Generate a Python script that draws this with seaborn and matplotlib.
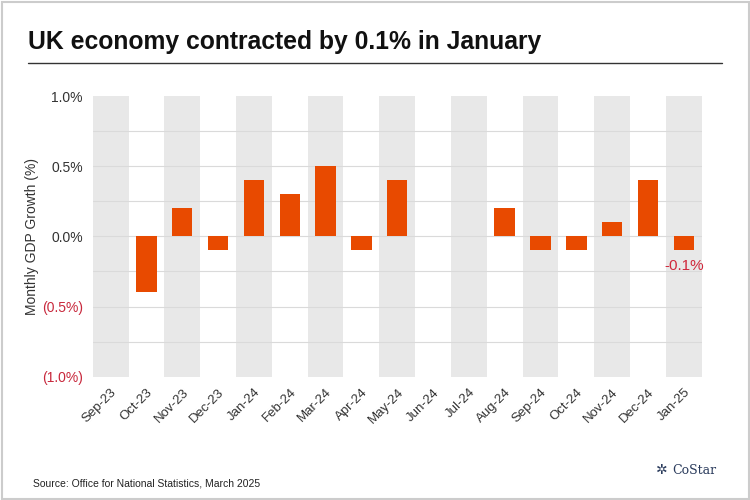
import matplotlib
matplotlib.use("Agg")
import matplotlib.pyplot as plt
import seaborn as sns
import pandas as pd

# Datos
meses = ["Sep-23", "Oct-23", "Nov-23", "Dec-23", "Jan-24", "Feb-24", "Mar-24", "Apr-24",
         "May-24", "Jun-24", "Jul-24", "Aug-24", "Sep-24", "Oct-24", "Nov-24", "Dec-24", "Jan-25"]
crecimiento = [0.0, -0.4, 0.2, -0.1, 0.4, 0.3, 0.5, -0.1,
               0.4, 0.0, 0.0, 0.2, -0.1, -0.1, 0.1, 0.4, -0.1]
ticks_y = [-1.0, -0.5, 0.0, 0.5, 1.0]
etiquetas_y = ["(1.0%)", "(0.5%)", "0.0%", "0.5%", "1.0%"]

df = pd.DataFrame({"mes": meses, "valor": crecimiento})

sns.set_style("white")
plt.rcParams["font.family"] = ["Liberation Sans", "DejaVu Sans"]

fig = plt.figure(figsize=(7.5, 5), dpi=100)
ax = fig.add_axes([0.1236, 0.2466, 0.812, 0.5614])

# Bandas grises alternas
for i in range(0, len(meses), 2):
    ax.axvspan(i - 0.5, i + 0.5, color="#e8e8e8", zorder=0, lw=0)

# Lineas de rejilla
for y in [-0.75, -0.5, -0.25, 0.0, 0.25, 0.5, 0.75]:
    ax.axhline(y, color="#dadada", lw=0.8, zorder=1)

sns.barplot(data=df, x="mes", y="valor", color="#e84a00", width=0.57,
            saturation=1, ax=ax, zorder=3, edgecolor="none", linewidth=0)

ax.set_xlim(-0.5, len(meses) - 0.5)
ax.set_ylim(-1.0, 1.0)
ax.set_yticks(ticks_y)
ax.set_yticklabels(etiquetas_y, fontsize=10)
for lbl, v in zip(ax.get_yticklabels(), ticks_y):
    lbl.set_color("#c8283c" if v < 0 else "#333333")
ax.set_xticks(range(len(meses)))
ax.set_xticklabels(meses, rotation=45, ha="right", rotation_mode="anchor",
                   fontsize=9.5, color="#333333")
ax.tick_params(axis="both", length=0, pad=7)
ax.set_xlabel("")
ax.set_ylabel("Monthly GDP Growth (%)", fontsize=10, color="#333333", labelpad=2)
for s in ax.spines.values():
    s.set_visible(False)

# Etiqueta del ultimo valor
ax.text(len(meses) - 1, crecimiento[-1] - 0.06, "-0.1%", color="#d0283c",
        fontsize=11, ha="center", va="top", zorder=4)

# Titulo y linea
fig.text(0.037, 0.915, "UK economy contracted by 0.1% in January", fontsize=17.8,
         fontweight="bold", color="#111111", va="center")
fig.add_artist(plt.Line2D([0.037, 0.963], [0.874, 0.874], color="#333333", lw=1))

# Fuente
fig.text(0.044, 0.033, "Source: Office for National Statistics, March 2025",
         fontsize=7.5, color="#222222", va="center")

# Logo
fig.text(0.955, 0.06, "CoStar", fontsize=9, color="#2a3b5c",
         family="DejaVu Serif", ha="right", va="center")
fig.text(0.883, 0.06, "✲", fontsize=10, color="#2a3b5c", ha="center", va="center",
         family="DejaVu Sans")

# Marco
fig.add_artist(plt.Rectangle((0.002, 0.003), 0.996, 0.994, fill=False,
                             edgecolor="#cccccc", lw=1.5, transform=fig.transFigure))

fig.savefig("out.png", dpi=100)
